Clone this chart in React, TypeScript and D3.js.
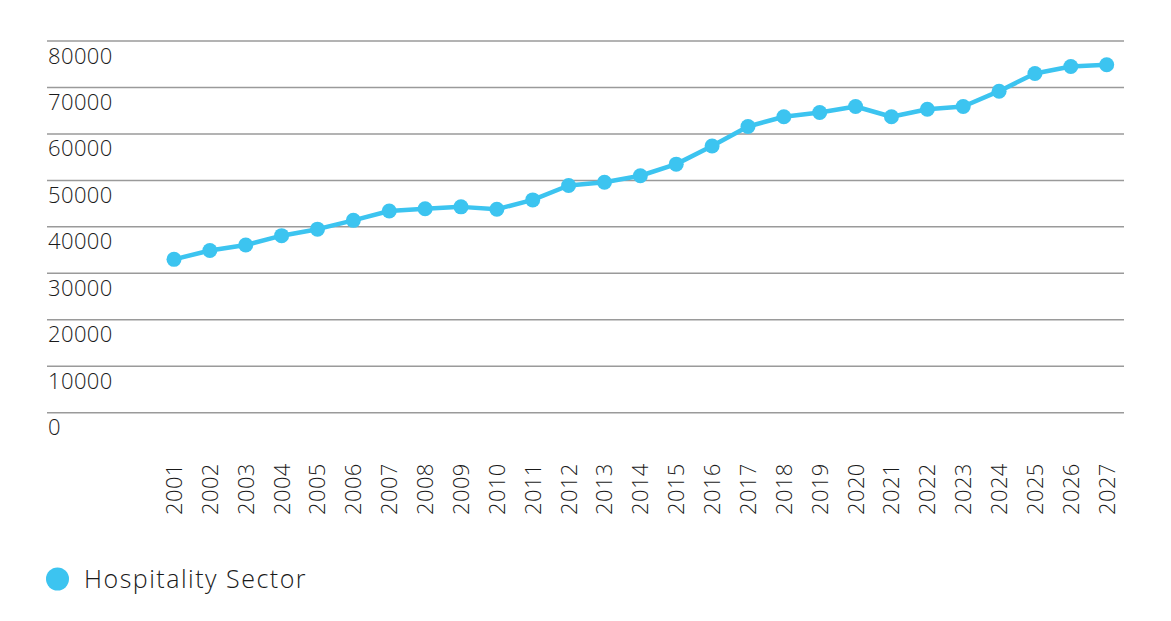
import { useEffect, useRef } from 'react';
import * as d3 from 'd3';

const years = [
  '2001', '2002', '2003', '2004', '2005', '2006', '2007', '2008', '2009',
  '2010', '2011', '2012', '2013', '2014', '2015', '2016', '2017', '2018',
  '2019', '2020', '2021', '2022', '2023', '2024', '2025', '2026', '2027',
];

const hospitality = [
  33000, 34900, 36100, 38100, 39500, 41400, 43400, 43900, 44300,
  43800, 45800, 48900, 49600, 51000, 53500, 57400, 61600, 63700,
  64600, 65900, 63700, 65300, 65900, 69200, 73000, 74500, 74900,
];

const yTicks = [0, 10000, 20000, 30000, 40000, 50000, 60000, 70000, 80000];

const seriesName = 'Hospitality Sector';

const W = 1171;
const H = 621;
const FONT = '"Open Sans", "DejaVu Sans", sans-serif';
const BLUE = '#3cc4f0';
const INK = '#1a1a1a';

export default function App() {
  const ref = useRef<SVGSVGElement | null>(null);

  useEffect(() => {
    const el = ref.current;
    if (!el) return;

    const svg = d3.select(el);
    svg.selectAll('*').remove();

    const x = d3.scalePoint<string>().domain(years).range([174, 1106.7]);
    const y = d3.scaleLinear().domain([0, 80000]).range([412.7, 41]);

    // grid + y labels
    const grid = svg.append('g');
    grid
      .selectAll('line')
      .data(yTicks)
      .join('line')
      .attr('x1', 47)
      .attr('x2', 1124)
      .attr('y1', (d) => y(d))
      .attr('y2', (d) => y(d))
      .attr('stroke', '#9a9a9a')
      .attr('stroke-width', 1.5);

    grid
      .selectAll('text')
      .data(yTicks)
      .join('text')
      .attr('x', 48)
      .attr('y', (d) => y(d) + 22.5)
      .attr('font-family', FONT)
      .attr('font-weight', 300)
      .attr('font-size', 22)
      .attr('letter-spacing', 0.4)
      .attr('fill', INK)
      .text((d) => String(d));

    // x labels, rotated
    svg
      .append('g')
      .selectAll('text')
      .data(years)
      .join('text')
      .attr('transform', (d) => `translate(${x(d)},515) rotate(-90)`)
      .attr('dy', '0.36em')
      .attr('text-anchor', 'start')
      .attr('font-family', FONT)
      .attr('font-weight', 300)
      .attr('font-size', 22)
      .attr('letter-spacing', 0.4)
      .attr('fill', INK)
      .text((d) => d);

    // line + points
    const line = d3
      .line<number>()
      .x((_, i) => x(years[i]) as number)
      .y((d) => y(d));

    svg
      .append('path')
      .datum(hospitality)
      .attr('d', line)
      .attr('fill', 'none')
      .attr('stroke', BLUE)
      .attr('stroke-width', 4.5)
      .attr('stroke-linejoin', 'round');

    svg
      .append('g')
      .selectAll('circle')
      .data(hospitality)
      .join('circle')
      .attr('cx', (_, i) => x(years[i]) as number)
      .attr('cy', (d) => y(d))
      .attr('r', 7.5)
      .attr('fill', BLUE);

    // legend
    const lg = svg.append('g');
    lg.append('circle').attr('cx', 57.5).attr('cy', 579).attr('r', 11.5).attr('fill', BLUE);
    lg.append('text')
      .attr('x', 84)
      .attr('y', 588)
      .attr('font-family', FONT)
      .attr('font-weight', 300)
      .attr('font-size', 25)
      .attr('letter-spacing', 1.5)
      .attr('fill', INK)
      .text(seriesName);
  }, []);

  return (
    <svg
      ref={ref}
      width={W}
      height={H}
      style={{ position: 'absolute', left: 0, top: 0, background: '#fff' }}
    />
  );
}
